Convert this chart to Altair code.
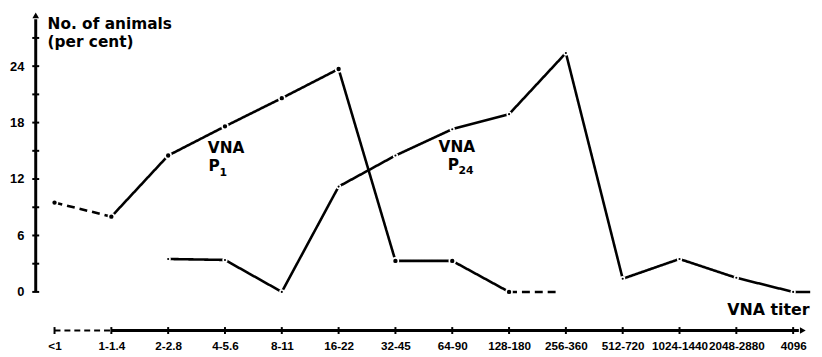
import json
import altair as alt
import pandas as pd

# ---------------- data ----------------
categories = ["<1", "1-1.4", "2-2.8", "4-5.6", "8-11", "16-22", "32-45",
              "64-90", "128-180", "256-360", "512-720", "1024-1440",
              "2048-2880", "4096"]
# VNA P1: values for <1 ... 128-180
p1_values = [9.5, 8.0, 14.5, 17.6, 20.6, 23.7, 3.3, 3.3, 0.0]
# VNA P24: values for 2-2.8 ... 4096
p24_values = [3.5, 3.4, 0.0, 11.2, 14.5, 17.3, 18.9, 25.4, 1.4, 3.5, 1.5, 0.0]
p24_start = 2
y_major = [0, 6, 12, 18, 24]
y_minor = [3, 9, 15, 21, 27]

# ---------------- geometry ----------------
W, H = 779, 320
X_DOM = [-0.331, 13.245]
Y_DOM = [-4.105, 29.58]
LABEL_FONT = "Liberation Sans, Arial, sans-serif"
TEXT_FONT = "DejaVu Sans, sans-serif"

xs = alt.Scale(domain=X_DOM, nice=False, zero=False)
ys = alt.Scale(domain=Y_DOM, nice=False, zero=False)
label_expr = json.dumps(categories) + "[datum.value]"
x_axis = alt.Axis(values=list(range(len(categories))), labelExpr=label_expr,
                  domain=False, ticks=False, grid=False, title=None,
                  labelFont=LABEL_FONT, labelFontSize=11.8, labelFontWeight="bold",
                  labelPadding=10, labelOverlap=False, labelFlush=False,
                  labelColor="black", labelAngle=0)
y_axis = alt.Axis(values=y_major, domain=False, ticks=False, grid=False,
                  title=None, labelFont=LABEL_FONT, labelFontSize=13,
                  labelFontWeight="bold", labelPadding=12, labelColor="black")


def X(field="x"):
    return alt.X(f"{field}:Q", scale=xs, axis=x_axis)


def Y(field="y"):
    return alt.Y(f"{field}:Q", scale=ys, axis=y_axis)


# ---------------- line segments ----------------
rows = []
p1_idx = list(range(len(p1_values)))
# dashed first segment of P1
for i in (0, 1):
    rows.append(dict(seg="p1a", x=i, y=p1_values[i], dash="dashed"))
for i in p1_idx[1:]:
    rows.append(dict(seg="p1b", x=i, y=p1_values[i], dash="solid"))
# dashed tail of P1
rows.append(dict(seg="p1c", x=p1_idx[-1], y=p1_values[-1], dash="dashed"))
rows.append(dict(seg="p1c", x=p1_idx[-1] + 0.85, y=p1_values[-1], dash="dashed"))
p24_idx = [p24_start + k for k in range(len(p24_values))]
for i, v in zip(p24_idx, p24_values):
    rows.append(dict(seg="p24", x=i, y=v, dash="solid"))
rows.append(dict(seg="p24t", x=p24_idx[-1], y=p24_values[-1], dash="solid"))
rows.append(dict(seg="p24t", x=p24_idx[-1] + 0.3, y=p24_values[-1], dash="solid"))
lines_df = pd.DataFrame(rows)

p1_df = pd.DataFrame({"x": p1_idx, "y": p1_values})
p24_df = pd.DataFrame({"x": p24_idx, "y": p24_values})

lines = alt.Chart(lines_df).mark_line(color="black", strokeWidth=2.6).encode(
    x=X(), y=Y(), detail="seg:N",
    strokeDash=alt.StrokeDash("dash:N", legend=None,
                              scale=alt.Scale(domain=["solid", "dashed"],
                                              range=[[1, 0], [8, 5]])))

p1_pts = alt.Chart(p1_df).mark_point(shape="circle", filled=True, fill="black",
                                     size=36, stroke="white", strokeWidth=1.6,
                                     opacity=1).encode(x=X(), y=Y())
p24_pts = alt.Chart(p24_df).mark_point(shape="circle", filled=True, fill="black",
                                       size=14, stroke="white", strokeWidth=1.6,
                                       opacity=1).encode(x=X(), y=Y())

# ---------------- axes drawn as lines ----------------
yaxis_df = pd.DataFrame({"y": [0], "y2": [29.0]})
yaxis_line = alt.Chart(yaxis_df).mark_rule(color="black", strokeWidth=3).encode(
    x=alt.value(0), y=Y(), y2="y2:Q")
yticks_df = pd.DataFrame({"y": y_major + y_minor})
yticks = alt.Chart(yticks_df).mark_rule(color="black", strokeWidth=2).encode(
    x=alt.value(-3.5), x2=alt.value(3.5), y=Y())
yarrow = alt.Chart(pd.DataFrame({"y": [29.4]})).mark_point(
    shape="triangle-up", filled=True, fill="black", size=45, opacity=1).encode(
    x=alt.value(0), y=Y())

xaxis_df = pd.DataFrame({"x": [0, 1], "x2": [1, 13.1], "dash": ["dashed", "solid"]})
xaxis_dash = alt.Chart(xaxis_df[xaxis_df.dash == "dashed"]).mark_rule(
    color="black", strokeWidth=2, strokeDash=[6, 4]).encode(
    x=X(), x2="x2:Q", y=alt.value(H))
xaxis_solid = alt.Chart(xaxis_df[xaxis_df.dash == "solid"]).mark_rule(
    color="black", strokeWidth=3).encode(x=X(), x2="x2:Q", y=alt.value(H))
xticks = alt.Chart(pd.DataFrame({"x": list(range(len(categories)))})).mark_rule(
    color="black", strokeWidth=2).encode(
    x=X(), y=alt.value(H - 3.5), y2=alt.value(H + 3.5))
xarrow = alt.Chart(pd.DataFrame({"x": [13.17]})).mark_point(
    shape="triangle-right", filled=True, fill="black", size=45, opacity=1).encode(
    x=X(), y=alt.value(H))

# ---------------- annotations ----------------
ann_left = pd.DataFrame({
    "text": ["No. of animals", "(per cent)"],
    "x": [-0.122, -0.122], "y": [28.53, 26.53]})
ann_center = pd.DataFrame({
    "text": ["VNA", "P", "VNA", "P"],
    "x": [3.02, 2.81, 7.08, 7.02], "y": [15.25, 13.35, 15.36, 13.5]})
ann_sub = pd.DataFrame({
    "text": ["1", "24"], "x": [2.905, 7.11], "y": [12.65, 12.85]})
ann_right = pd.DataFrame({"text": ["VNA titer"], "x": [13.29], "y": [-1.89]})

t_left = alt.Chart(ann_left).mark_text(font=TEXT_FONT, fontSize=15.5, fontWeight="bold",
                                       align="left", baseline="middle", color="black").encode(
    x=X(), y=Y(), text="text:N")
t_center = alt.Chart(ann_center).mark_text(font=TEXT_FONT, fontSize=15.5, fontWeight="bold",
                                           align="center", baseline="middle", color="black").encode(
    x=X(), y=Y(), text="text:N")
t_sub = alt.Chart(ann_sub).mark_text(font=TEXT_FONT, fontSize=11, fontWeight="bold",
                                     align="left", baseline="middle", color="black").encode(
    x=X(), y=Y(), text="text:N")
t_right = alt.Chart(ann_right).mark_text(font=TEXT_FONT, fontSize=16, fontWeight="bold",
                                         align="right", baseline="middle", color="black").encode(
    x=X(), y=Y(), text="text:N")

chart = alt.layer(
    lines, p1_pts, p24_pts, yaxis_line, yticks, yarrow,
    xaxis_dash, xaxis_solid, xticks, xarrow, t_left, t_center, t_sub, t_right
).properties(
    width=W, height=H,
    autosize=alt.AutoSizeParams(type="none"),
    padding={"left": 28, "top": 4, "right": 7, "bottom": 25},
    background="white"
).configure_view(stroke=None)

chart.save("out.html", embed_options={"renderer": "svg", "actions": False})
